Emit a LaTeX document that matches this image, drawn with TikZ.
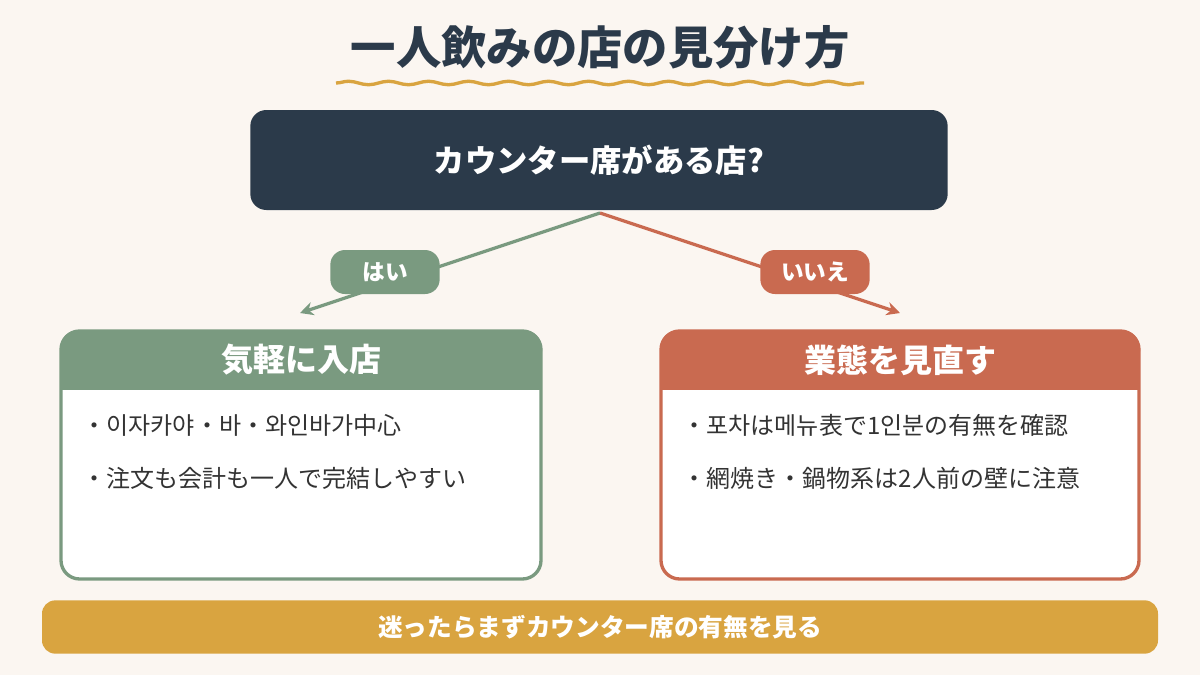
\documentclass[tikz,border=0pt]{standalone}
\usepackage{fontspec}
\setmainfont{Noto Sans CJK JP}
\usetikzlibrary{decorations.pathmorphing,arrows.meta}
\definecolor{bg}{HTML}{FBF6F1}
\definecolor{navy}{HTML}{2B3A4A}
\definecolor{grn}{HTML}{7A9A80}
\definecolor{red}{HTML}{C96A50}
\definecolor{gold}{HTML}{D9A440}
\definecolor{txt}{HTML}{333333}
\begin{document}
\begin{tikzpicture}[x=0.75pt,y=-0.75pt,
  pill/.style={rounded corners=11pt,text=white,font=\bfseries\fontsize{17}{20}\selectfont,minimum height=33pt,minimum width=82pt,inner sep=0pt},
  bul/.style={anchor=west,text=txt,font=\fontsize{18}{22}\selectfont},
  conn/.style={line width=2.4pt,-{Stealth[length=10pt,width=10pt]}}]
\fill[bg] (0,0) rectangle (1200,675);
\useasboundingbox (0,0) rectangle (1200,675);
\node[text=navy,font=\bfseries\fontsize{34}{40}\selectfont] (title) at (600,47) {一人飲みの店の見分け方};
\draw[gold,line width=2.5pt,decorate,decoration={snake,amplitude=1.3pt,segment length=30pt}] (336,83) -- (864,83);
\node[fill=navy,rounded corners=12pt,minimum width=523pt,minimum height=75pt,text=white,font=\bfseries\fontsize{23.5}{28}\selectfont] (q) at (599,160) {カウンター席がある店?};
\coordinate (s) at (600,213);
\coordinate (l) at (300,313);
\coordinate (r) at (900,313);
\draw[conn,grn] (s) -- (l);
\draw[conn,red] (s) -- (r);
\node[pill,fill=grn] (yes) at (385,272) {はい};
\node[pill,fill=red] (no) at (815,272) {いいえ};
% left box
\draw[grn,line width=2.5pt,fill=white,rounded corners=14pt] (61,331) rectangle (541,579);
\fill[grn,rounded corners=14pt] (60,330) rectangle (542,370);
\fill[grn] (60,355) rectangle (542,390);
\node[text=white,font=\bfseries\fontsize{24}{28}\selectfont] (lt) at (301,360) {気軽に入店};
\node[bul] (l1) at (78,425) {・이자카야・바・와인바가中心};
\node[bul] (l2) at (78,478) {・注文も会計も一人で完結しやすい};
% right box
\draw[red,line width=2.5pt,fill=white,rounded corners=14pt] (661,331) rectangle (1139,579);
\fill[red,rounded corners=14pt] (660,330) rectangle (1140,370);
\fill[red] (660,355) rectangle (1140,390);
\node[text=white,font=\bfseries\fontsize{24}{28}\selectfont] (rt) at (900,360) {業態を見直す};
\node[bul] (r1) at (678,425) {・포차は메뉴表で1인분の有無を確認};
\node[bul] (r2) at (678,478) {・網焼き・鍋物系は2人前の壁に注意};
% bottom
\node[fill=gold,rounded corners=10pt,minimum width=837pt,minimum height=40pt,text=white,font=\bfseries\fontsize{18.5}{22}\selectfont] (bot) at (600,627) {迷ったらまずカウンター席の有無を見る};
\end{tikzpicture}
\end{document}
